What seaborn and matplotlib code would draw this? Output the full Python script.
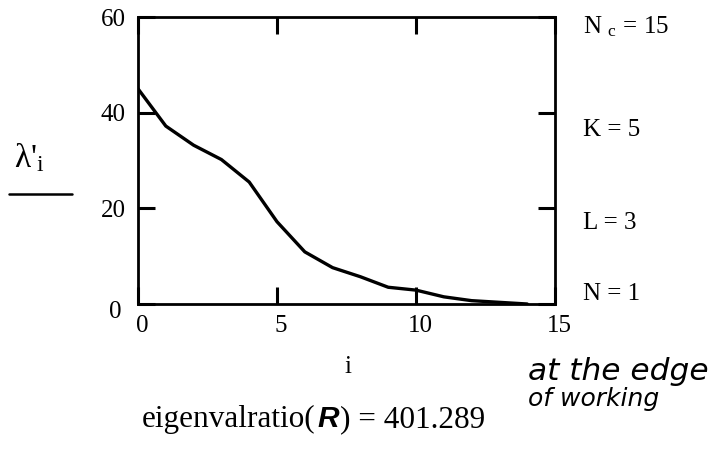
import matplotlib
matplotlib.use("Agg")
import matplotlib.pyplot as plt
import matplotlib.transforms as mtransforms
import seaborn as sns
import pandas as pd
from matplotlib.lines import Line2D

# data
idx = [0, 1, 2, 3, 4, 5, 6, 7, 8, 9, 10, 11, 12, 13, 14]
lam = [45.0, 37.2, 33.2, 30.2, 25.5, 17.2, 10.9, 7.6, 5.7, 3.5, 2.9, 1.5, 0.7, 0.35, 0.0]
xticks = [0, 5, 10, 15]
yticks = [0, 20, 40, 60]
params = [r"N $_{\mathregular{c}}$ = 15", "K = 5", "L = 3", "N = 1"]

sns.set_theme(style="white")
plt.rcParams["font.family"] = ["Liberation Serif", "DejaVu Serif"]
plt.rcParams["mathtext.fontset"] = "stix"
plt.rcParams["text.color"] = "black"
plt.rcParams["axes.labelcolor"] = "black"

df = pd.DataFrame({"i": idx, "lam": lam})

W, H = 720, 454
fig = plt.figure(figsize=(W / 100, H / 100), dpi=100)
ax = fig.add_axes([138 / W, 1 - 304 / H, (555 - 138) / W, (304 - 17) / H])
sns.lineplot(data=df, x="i", y="lam", ax=ax, color="black", linewidth=2.4)

ax.set_xlim(0, 15)
ax.set_ylim(0, 60)
ax.set_xticks(xticks)
ax.set_yticks(yticks)
ax.set_xlabel("")
ax.set_ylabel("")
for s in ax.spines.values():
    s.set_color("black")
    s.set_linewidth(2.0)
ax.tick_params(axis="both", which="both", direction="in", length=12, width=2.2,
               colors="black", labelsize=18, top=True, right=True,
               left=True, bottom=True)
ax.tick_params(axis="x", pad=8)
ax.tick_params(axis="y", pad=9)
ax.grid(False)

# small Mathcad-like label offsets
shift_x = mtransforms.ScaledTranslation(4 / 100, 0, fig.dpi_scale_trans)
for lbl in ax.get_xticklabels():
    lbl.set_transform(lbl.get_transform() + shift_x)
ylbls = ax.get_yticklabels()
ylbls[0].set_transform(ylbls[0].get_transform() +
                       mtransforms.ScaledTranslation(-4 / 100, -5 / 100, fig.dpi_scale_trans))

# x label and y label (Mathcad style)
fig.text(348 / W, 1 - 367 / H, "i", ha="center", va="center", fontsize=18)
fig.text(14 / W, 1 - 167 / H, r"λ'$_{\mathregular{i}}$", ha="left", va="baseline", fontsize=24)
fig.add_artist(Line2D([9 / W, 72 / W], [1 - 194 / H, 1 - 194 / H], color="black", linewidth=1.8))

# parameter annotations on the right
ys = [27, 130, 223, 294]
for txt, y in zip(params, ys):
    fig.text(583 / W, 1 - y / H, txt, ha="left", va="center", fontsize=18)

# bottom result line
base_y = 1 - 427 / H
fs = 22.5
t1 = fig.text(142 / W, base_y, "eigenvalratio(", ha="left", va="baseline", fontsize=fs)
fig.canvas.draw()
r = fig.canvas.get_renderer()
x1 = t1.get_window_extent(r).x1 / W
t2 = fig.text(x1 + 2 / W, base_y, "R", ha="left", va="baseline", fontsize=fs - 1,
              family="Liberation Sans", weight="bold", style="italic")
fig.canvas.draw()
x2 = t2.get_window_extent(r).x1 / W
fig.text(x2 + 1 / W, base_y, ") = 401.289", ha="left", va="baseline", fontsize=fs)

# handwritten note
fig.text(528 / W, 1 - 380 / H, "at the edge", ha="left", va="baseline", fontsize=22.5,
         style="italic", family="DejaVu Sans")
fig.text(528 / W, 1 - 406 / H, "of working", ha="left", va="baseline", fontsize=18,
         style="italic", family="DejaVu Sans")

fig.savefig("out.png", dpi=100, facecolor="white")
